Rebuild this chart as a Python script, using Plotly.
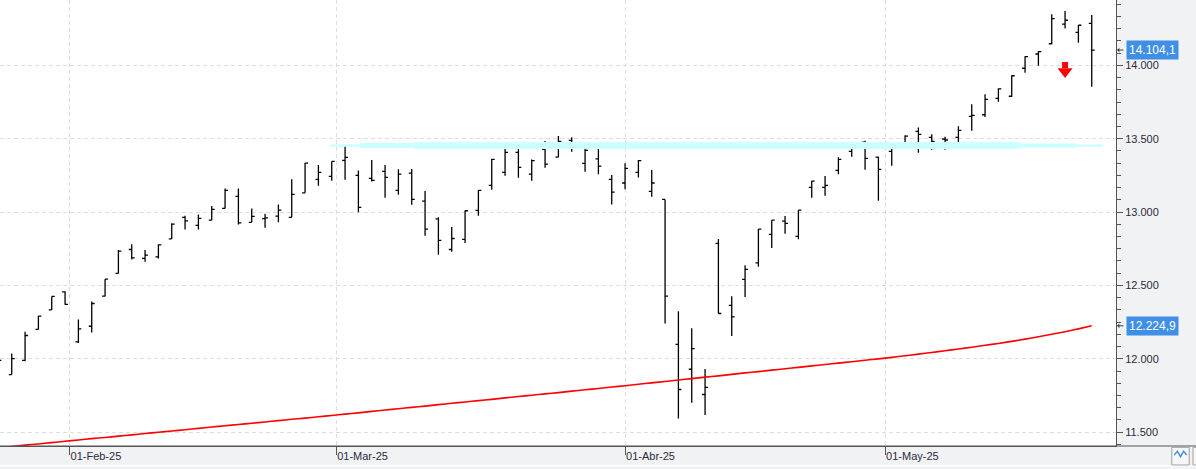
import datetime as dt
import pandas as pd
import plotly.graph_objects as go

# ---- data: IBEX 35 daily bars, 24-Jan-2025 .. 23-May-2025 ----
holidays = ["2025-04-18", "2025-04-21", "2025-05-01"]
dates = [d for d in pd.bdate_range("2025-01-24", "2025-05-23") if d.strftime("%Y-%m-%d") not in holidays]

opens = [12020, 11893, 11989, 12200, 12334, 12456, 12115, 12222, 12427, 12582,
         12745, 12684, 12695, 12818, 12964, 12909, 12945, 13025, 13107, 12930,
         12955, 12973, 12964, 13131, 13223, 13243, 13352, 13250, 13230, 13277,
         13148, 13266, 13075, 12954, 12745, 12814, 13011, 13182, 13270, 13407,
         13259, 13427, 13375, 13489, 13332, 13363, 13223, 13198, 13270, 13141,
         13086, 12098, 11929, 11757, 12786, 12364, 12541, 12654, 12848, 12938,
         12834, 13168, 13168, 13284, 13414, 13477, 13375, 13414, 13472, 13550,
         13509, 13498, 13509, 13652, 13663, 13775, 13789, 13980, 14077, 14147,
         14280, 14225, 14286]
highs = [12040, 12036, 12184, 12293, 12425, 12461, 12268, 12391, 12543, 12741,
         12780, 12741, 12780, 12923, 12975, 12984, 13041, 13161, 13161, 13025,
         12988, 13052, 13223, 13336, 13320, 13345, 13450, 13284, 13354, 13320,
         13291, 13293, 13143, 12964, 12898, 13011, 13150, 13361, 13429, 13470,
         13359, 13484, 13518, 13509, 13463, 13441, 13252, 13332, 13354, 13286,
         13086, 12325, 12209, 11931, 12816, 12427, 12638, 12884, 12945, 12973,
         13013, 13213, 13245, 13373, 13475, 13486, 13377, 13450, 13523, 13577,
         13530, 13513, 13584, 13734, 13802, 13843, 13932, 14061, 14095, 14348,
         14370, 14275, 14343]
lows = [11960, 11893, 11984, 12200, 12332, 12368, 12107, 12180, 12425, 12582,
        12677, 12661, 12684, 12816, 12882, 12882, 12945, 13025, 12916, 12930,
        12893, 12930, 12964, 13131, 13179, 13213, 13220, 12998, 13209, 13097,
        13118, 13050, 12838, 12709, 12729, 12790, 12975, 13152, 13247, 13234,
        13213, 13302, 13373, 13411, 13275, 13257, 13052, 13155, 13236, 13104,
        12241, 11593, 11700, 11618, 12309, 12156, 12422, 12627, 12756, 12852,
        12814, 13097, 13111, 13257, 13377, 13288, 13077, 13315, 13468, 13404,
        13425, 13425, 13472, 13554, 13648, 13752, 13784, 13950, 13997, 14143,
        14250, 14154, 13854]
closes = [11990, 12002, 12159, 12291, 12425, 12371, 12204, 12377, 12543, 12734,
          12688, 12707, 12777, 12918, 12940, 12957, 13018, 13148, 12927, 12970,
          12960, 13013, 13120, 13334, 13270, 13345, 13373, 13032, 13216, 13236,
          13259, 13086, 12884, 12807, 12820, 13009, 13148, 13359, 13407, 13305,
          13350, 13327, 13482, 13434, 13421, 13313, 13136, 13298, 13350, 13198,
          12427, 11791, 12070, 11805, 12309, 12286, 12609, 12884, 12945, 12923,
          13013, 13211, 13182, 13359, 13455, 13366, 13291, 13448, 13518, 13530,
          13482, 13491, 13557, 13659, 13768, 13840, 13929, 14059, 14093, 14318,
          14307, 14273, 14104.1]
sma200 = [11394, 11403, 11412, 11420, 11429, 11438, 11447, 11456, 11464, 11473,
          11482, 11491, 11500, 11508, 11517, 11526, 11535, 11544, 11552, 11561,
          11570, 11579, 11588, 11596, 11605, 11614, 11623, 11632, 11642, 11651,
          11660, 11669, 11678, 11688, 11697, 11706, 11715, 11724, 11734, 11743,
          11752, 11761, 11770, 11780, 11789, 11798, 11808, 11817, 11827, 11836,
          11846, 11856, 11865, 11875, 11884, 11894, 11904, 11913, 11923, 11932,
          11942, 11952, 11961, 11971, 11980, 11990, 12000, 12010, 12021, 12032,
          12043, 12055, 12067, 12079, 12092, 12105, 12119, 12134, 12150, 12167,
          12185, 12204, 12224.9]

# resistance zone (cyan band) level and its segments (bar-index units)
band_level = 13453
band_start = [24.9, 27.1, 31.2, 76.6, 80.9]
band_end = [27.1, 31.2, 76.6, 80.9, 82.8]
band_width = [2.5, 5, 7, 4.3, 2.5]

# sell signal arrow
signal_index = 80
signal_price = 14002

month_starts = ["2025-02-01", "2025-03-01", "2025-04-01", "2025-05-01"]
month_labels = ["01-Feb-25", "01-Mar-25", "01-Abr-25", "01-May-25"]

y_ticks = [11500, 12000, 12500, 13000, 13500, 14000]

# ---- helpers ----
idx = list(range(len(dates)))


def date_pos(dstr):
    d = pd.Timestamp(dstr)
    for i in range(len(dates) - 1):
        if dates[i] <= d < dates[i + 1]:
            return i + (d - dates[i]).days / (dates[i + 1] - dates[i]).days
    return len(dates) - 1


def es_fmt(v):
    s = f"{v:,.1f}"
    return s.replace(",", "X").replace(".", ",").replace("X", ".")


tick_pos = [date_pos(d) for d in month_starts]

fig = go.Figure()

# cyan band
for s, e, w in zip(band_start, band_end, band_width):
    fig.add_trace(go.Scatter(x=[s, e], y=[band_level, band_level], mode="lines",
                             line=dict(color="#ccffff", width=w), hoverinfo="skip",
                             showlegend=False))

# moving average
fig.add_trace(go.Scatter(x=idx, y=sma200, mode="lines",
                         line=dict(color="#ff0000", width=1.6, shape="spline", smoothing=0.6),
                         hoverinfo="skip", showlegend=False))

# OHLC bars
fig.add_trace(go.Ohlc(x=idx, open=opens, high=highs, low=lows, close=closes,
                      increasing=dict(line=dict(color="black", width=1.3)),
                      decreasing=dict(line=dict(color="black", width=1.3)),
                      tickwidth=0.22, hoverinfo="skip", showlegend=False))

# sell arrow
fig.add_trace(go.Scatter(x=[signal_index], y=[signal_price], mode="markers",
                         marker=dict(symbol="square", size=6, color="#ff0000"),
                         hoverinfo="skip", showlegend=False))
fig.add_trace(go.Scatter(x=[signal_index], y=[signal_price - 45], mode="markers",
                         marker=dict(symbol="triangle-down", size=13, color="#ff0000"),
                         hoverinfo="skip", showlegend=False))

fig.update_layout(
    width=1196, height=469,
    margin=dict(l=0, r=80, t=0, b=23),
    paper_bgcolor="#f1f2f4",
    plot_bgcolor="#ffffff",
    separators=",.",
    font=dict(family="Liberation Sans, Arial, sans-serif", size=11, color="#2a2a40"),
    showlegend=False,
)

fig.update_xaxes(
    range=[0.12, 83.82],
    rangeslider=dict(visible=False),
    tickvals=tick_pos, ticktext=month_labels,
    ticklabelposition="outside right",
    ticks="outside", ticklen=8, tickcolor="#555555",
    showgrid=True, gridcolor="#dddddd", griddash="4px,3px", gridwidth=1,
    showline=True, linecolor="#555555", linewidth=1,
    zeroline=False,
)

fig.update_yaxes(
    side="right",
    range=[11406, 14445],
    tickvals=y_ticks, tickformat=",.0f",
    ticks="outside", ticklen=6, tickcolor="#555555",
    minor=dict(tick0=11500, dtick=500 / 6, ticks="outside", ticklen=4,
               tickcolor="#555555", showgrid=False),
    showgrid=True, gridcolor="#dddddd", griddash="4px,3px", gridwidth=1,
    showline=True, linecolor="#555555", linewidth=1,
    zeroline=False,
)

# price labels on the right axis
for price in [closes[-1], sma200[-1]]:
    fig.add_annotation(xref="paper", yref="y", x=1, y=price, xanchor="left",
                       xshift=10, text=es_fmt(price), showarrow=False,
                       font=dict(color="white", size=12,
                                 family="Liberation Sans, Arial, sans-serif"),
                       bgcolor="#3f8fe6", borderpad=2)
    fig.add_annotation(xref="paper", yref="y", x=1, y=price, text="",
                       showarrow=True, ax=8, ay=0, arrowhead=1, arrowsize=0.8,
                       arrowwidth=1, arrowcolor="#444444", xshift=1)

# bottom strip decorations
fig.add_shape(type="line", xref="paper", yref="paper", x0=0, x1=1.08, y0=0, y1=0,
              line=dict(color="#555555", width=1))
fig.add_shape(type="line", xref="paper", yref="paper", x0=0, x1=1.08,
              y0=-0.0445, y1=-0.0445, line=dict(color="#ffffff", width=1.5))
fig.add_shape(type="rect", xref="paper", yref="paper", x0=1.0500, x1=1.0656,
              y0=-0.0426, y1=-0.003, line=dict(color="#a0a0a0", width=1),
              fillcolor="#f7f7f7")
fig.add_shape(type="path", xref="paper", yref="paper",
              path="M 1.0522,-0.020 L 1.0550,-0.012 L 1.0578,-0.024 L 1.0606,-0.012 L 1.0634,-0.020",
              line=dict(color="#4a90d9", width=1.5))
fig.add_shape(type="rect", xref="paper", yref="paper", x0=1.0690, x1=1.0760,
              y0=-0.0426, y1=-0.003, line=dict(color="#a0a0a0", width=1),
              fillcolor="#f7f7f7")

fig.write_html("out.html")
